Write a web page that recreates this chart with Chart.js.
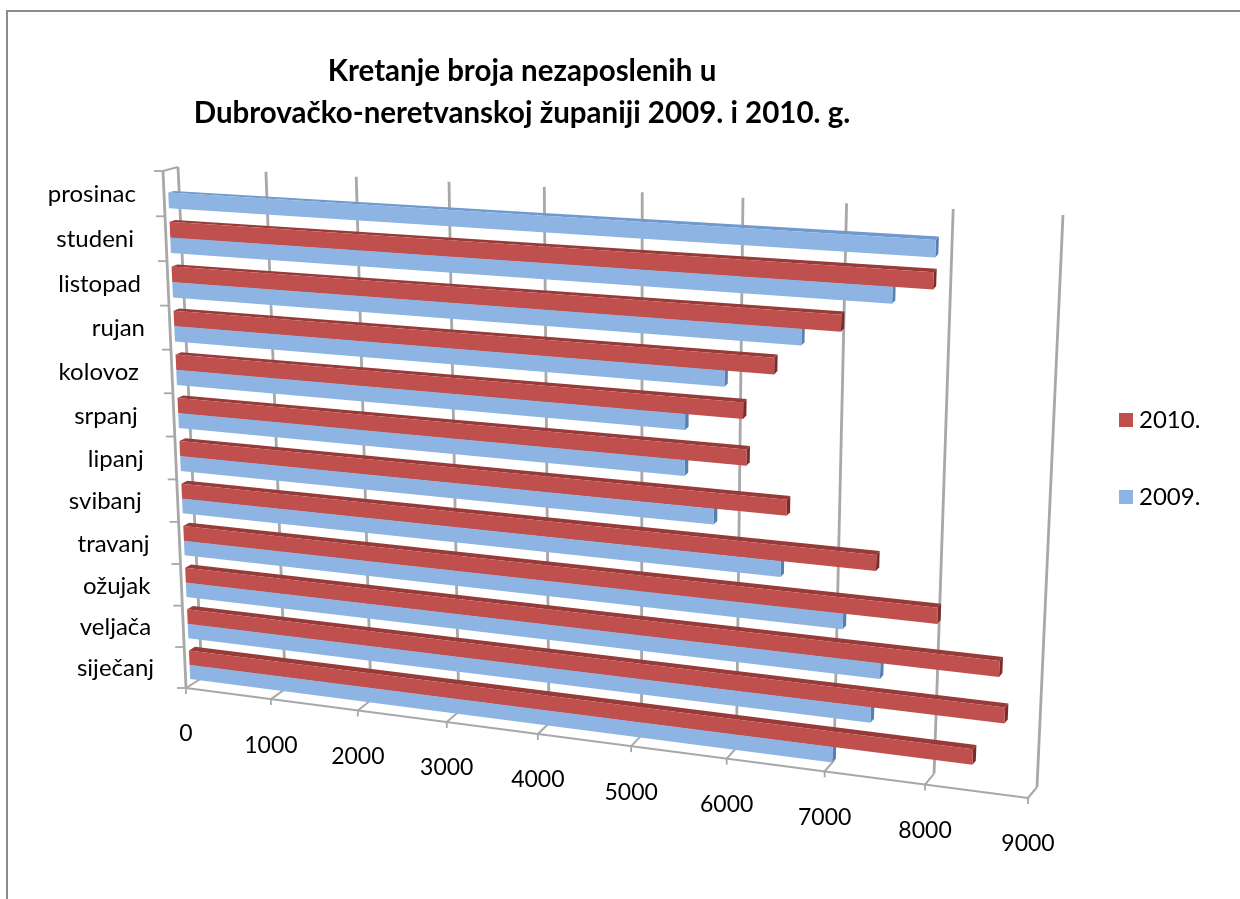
<!DOCTYPE html>
<html>
<head>
<meta charset="utf-8">
<title>Kretanje broja nezaposlenih</title>
<script src="https://cdn.jsdelivr.net/npm/chart.js@4"></script>
<style>
  html, body { margin: 0; background: #fff; overflow: hidden; }
  #frame { position: absolute; left: 6px; top: 10px; width: 1240px; height: 900px; border-top: 2px solid #8c8c8c; border-left: 2px solid #8c8c8c; }
  #chart { position: absolute; left: 0; top: 0; filter: blur(0.45px); }
</style>
</head>
<body>
<div id="frame"></div>
<canvas id="chart" width="1240" height="899"></canvas>
<script>
const titleLines = ["Kretanje broja nezaposlenih u", "Dubrovačko-neretvanskoj županiji 2009. i 2010. g."];
const months = ["siječanj", "veljača", "ožujak", "travanj", "svibanj", "lipanj", "srpanj", "kolovoz", "rujan", "listopad", "studeni", "prosinac"];
const values2009 = [7050, 7420, 7500, 7120, 6490, 5810, 5510, 5510, 5900, 6650, 7510, 7900];
const values2010 = [8430, 8720, 8650, 8040, 7430, 6540, 6130, 6090, 6390, 7030, 7890, null];
const xMax = 9000;
const xStep = 1000;

const FONT = "Lato, 'Noto Sans', sans-serif";
const GRID = "#a8a8a8";
const depthFront = 0.28, depthBack = 0.66;
// small shifts of the month labels, the original has them a bit uneven
const monthNudge = [-3, -4, -3, -2, -8, -4, -8, -5, 3, 1, -4, 0];

// corners of the box: bottom left, bottom right, top right, top left
const frontQuad = [[186, 688], [1028, 798], [1055, 225], [163, 171]];
const backQuad = [[202, 678], [1037, 787], [1063, 215], [178, 167]];

function homography(q) {
  const [x0, y0] = q[0], [x1, y1] = q[1], [x2, y2] = q[2], [x3, y3] = q[3];
  const dx1 = x1 - x2, dx2 = x3 - x2, sx = x0 - x1 + x2 - x3;
  const dy1 = y1 - y2, dy2 = y3 - y2, sy = y0 - y1 + y2 - y3;
  const den = dx1 * dy2 - dx2 * dy1;
  const g = (sx * dy2 - dx2 * sy) / den;
  const h = (dx1 * sy - sx * dy1) / den;
  const a = x1 - x0 + g * x1, b = x3 - x0 + h * x3;
  const d = y1 - y0 + g * y1, e = y3 - y0 + h * y3;
  return (s, t) => {
    const w = g * s + h * t + 1;
    return [(a * s + b * t + x0) / w, (d * s + e * t + y0) / w];
  };
}
const frontH = homography(frontQuad);
const backH = homography(backQuad);

// s,t in 0..1 on the chart area, depth 0 is the front and 1 the back wall
function place(s, t, depth) {
  const f = frontH(s, t), b = backH(s, t);
  return [f[0] + (b[0] - f[0]) * depth, f[1] + (b[1] - f[1]) * depth];
}

function poly(ctx, pts, color) {
  ctx.beginPath();
  pts.forEach((p, i) => i ? ctx.lineTo(p[0], p[1]) : ctx.moveTo(p[0], p[1]));
  ctx.closePath();
  ctx.fillStyle = color;
  ctx.fill();
}

function line(ctx, a, b, width) {
  ctx.beginPath();
  ctx.moveTo(a[0], a[1]);
  ctx.lineTo(b[0], b[1]);
  ctx.lineWidth = width || 2.8;
  ctx.strokeStyle = GRID;
  ctx.stroke();
}

const perspectivePlugin = {
  id: "perspective",
  beforeDatasetsDraw(chart) {
    const ctx = chart.ctx, xs = chart.scales.x;
    const area = chart.chartArea;
    ctx.save();
    // back wall, floor and ticks of the value axis
    xs.ticks.forEach(tick => {
      const s = (xs.getPixelForValue(tick.value) - area.left) / area.width;
      line(ctx, place(s, 0, 1), place(s, 1, 1));
      line(ctx, place(s, 0, 0), place(s, 0, 1), 2);
      const p = place(s, 0, 0);
      line(ctx, p, [p[0], p[1] + 6], 1.8);
      ctx.fillStyle = "#000";
      ctx.font = "23px " + FONT;
      ctx.textAlign = "center";
      ctx.textBaseline = "middle";
      ctx.fillText(String(tick.value), p[0], p[1] + 46);
    });
    // left side and month ticks
    line(ctx, place(0, 0, 0), place(1, 0, 0), 2.2);
    line(ctx, place(0, 0, 0), place(0, 1, 0));
    line(ctx, place(0, 1, 0), place(0, 1, 1), 2);
    for (let i = 0; i <= months.length; i++) {
      const p = place(0, i / months.length, 0);
      line(ctx, p, [p[0] - 9, p[1]], 1.8);
    }
    months.forEach((m, i) => {
      const p = place(0, (i + 0.5) / months.length, 0);
      ctx.fillStyle = "#000";
      ctx.font = "24px " + FONT;
      ctx.textAlign = "right";
      ctx.textBaseline = "middle";
      ctx.fillText(m, p[0] - 28 + monthNudge[i], p[1] + 1);
    });
    // bars, taken from the elements that chart.js laid out; 2009 sits below and goes first
    [1, 0].forEach(di => {
      const ds = chart.data.datasets[di];
      chart.getDatasetMeta(di).data.forEach((el, i) => {
        if (ds.data[i] === null) return;
        const s0 = (el.base - area.left) / area.width;
        const s1 = (el.x - area.left) / area.width;
        const t0 = (area.bottom - (el.y + el.height / 2)) / area.height;
        const t1 = (area.bottom - (el.y - el.height / 2)) / area.height;
        poly(ctx, [place(s0, t1, depthFront), place(s1, t1, depthFront), place(s1, t1, depthBack), place(s0, t1, depthBack)], ds.topColor);
        poly(ctx, [place(s1, t0, depthFront), place(s1, t1, depthFront), place(s1, t1, depthBack), place(s1, t0, depthBack)], ds.endColor);
        poly(ctx, [place(s0, t0, depthFront), place(s1, t0, depthFront), place(s1, t1, depthFront), place(s0, t1, depthFront)], ds.backgroundColor);
      });
    });
    ctx.restore();
    return false;
  },
  afterDraw(chart) {
    const ctx = chart.ctx;
    ctx.save();
    ctx.fillStyle = "#000";
    ctx.font = "bold 29.5px " + FONT;
    ctx.textAlign = "center";
    ctx.textBaseline = "middle";
    titleLines.forEach((t, i) => ctx.fillText(t, 522, 71 + i * 42));
    chart.data.datasets.forEach((ds, i) => {
      const y = 420 + i * 77;
      ctx.fillStyle = ds.backgroundColor;
      ctx.fillRect(1119, y - 7, 14, 14);
      ctx.fillStyle = "#000";
      ctx.font = "24px " + FONT;
      ctx.textAlign = "left";
      ctx.fillText(ds.label, 1139, y);
    });
    ctx.restore();
  }
};

new Chart(document.getElementById("chart"), {
  type: "bar",
  data: {
    labels: months,
    datasets: [
      { label: "2010.", data: values2010, backgroundColor: "#c0504d", topColor: "#983a38", endColor: "#7a2c2a" },
      { label: "2009.", data: values2009, backgroundColor: "#8db4e2", topColor: "#6f9ad0", endColor: "#5580b0" }
    ]
  },
  options: {
    indexAxis: "y",
    responsive: false,
    animation: false,
    devicePixelRatio: 1,
    categoryPercentage: 0.7,
    barPercentage: 1,
    scales: {
      x: { display: false, min: 0, max: xMax, ticks: { stepSize: xStep } },
      y: { display: false, reverse: true }
    },
    plugins: { legend: { display: false }, title: { display: false }, tooltip: { enabled: false } }
  },
  plugins: [perspectivePlugin]
});
</script>
</body>
</html>
